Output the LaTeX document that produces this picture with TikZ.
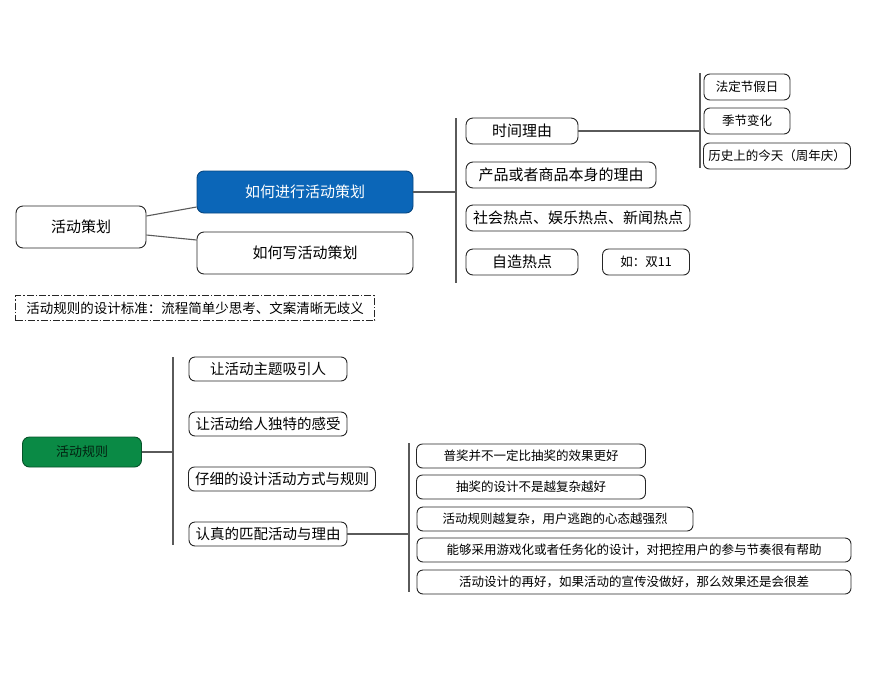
\documentclass[tikz,border=0pt]{standalone}
\usepackage{fontspec}
\setmainfont{Noto Sans CJK SC}
\usepackage{tikz}
\usetikzlibrary{calc}

\definecolor{planblue}{HTML}{0B66B8}
\definecolor{rulegreen}{HTML}{0A8A45}
\definecolor{linegray}{HTML}{5A5A5A}

\begin{document}
\begin{tikzpicture}[
    x=1pt, y=-1pt,
    box/.style={rectangle, draw=black!85, line width=0.9pt, rounded corners=7pt,
                inner sep=0pt, font=\fontsize{15}{15}\selectfont},
    big/.style={box, minimum width=130pt, minimum height=42pt},
    mid/.style={box, minimum width=216pt, minimum height=42pt},
    leaf/.style={box, minimum height=26pt},
    small/.style={box, minimum height=24pt, rounded corners=6pt,
                  font=\fontsize{14.5}{14.5}\selectfont},
    tiny/.style={small, minimum height=26pt, font=\fontsize{12.5}{12.5}\selectfont},
    link/.style={draw=linegray, line width=1.1pt},
]
\useasboundingbox (0,0) rectangle (875,675);

% top tree
\node[big] (plan) at (81,227) {活动策划};
\node[mid, fill=planblue, draw=planblue!70!black, text=white] (how) at (305,192) {如何进行活动策划};
\node[mid] (write) at (305,253) {如何写活动策划};
\draw[link] ($(plan.east)+(0,-11)$) -- ($(how.west)+(0,15)$);
\draw[link] ($(plan.east)+(0,8)$) -- ($(write.west)+(0,-13)$);

% reasons
\coordinate (bar1) at (456,192);
\draw[link] (how.east) -- (bar1);
\draw[link] (456,118) -- (456,283);
\node[leaf, minimum width=112pt] (time) at (522,131) {时间理由};
\node[leaf, minimum width=190pt] (goods) at (561,175) {产品或者商品本身的理由};
\node[leaf, minimum width=224pt] (hot) at (578,218) {社会热点、娱乐热点、新闻热点};
\node[leaf, minimum width=112pt] (self) at (522,262) {自造热点};
\node[tiny, minimum width=87pt] (eg) at (646,262) {如：双11};

% time reasons
\coordinate (bar2) at (700,131);
\draw[link] (time.east) -- (bar2);
\draw[link] (700,73) -- (700,168);
\node[tiny, minimum width=86pt] (holiday) at (747,87) {法定节假日};
\node[tiny, minimum width=86pt] (season) at (747,121) {季节变化};
\node[tiny, minimum width=147pt] (today) at (777,156) {历史上的今天（周年庆）};

% standard
\node[draw=black!85, line width=0.9pt, dash pattern=on 7pt off 2pt on 1.5pt off 2pt,
      minimum width=359pt, minimum height=25pt, inner sep=0pt,
      font=\fontsize{13.5}{13.5}\selectfont] (std) at (195,308)
  {活动规则的设计标准：流程简单少思考、文案清晰无歧义};

% rules tree
\node[box, fill=rulegreen, draw=rulegreen!60!black, text=black!75!rulegreen,
      minimum width=119pt, minimum height=30pt,
      font=\fontsize{13}{13}\selectfont] (rule) at (82,452) {活动规则};
\coordinate (bar3) at (173,452);
\draw[link] (rule.east) -- (bar3);
\draw[link] (173,357) -- (173,545);
\node[small, minimum width=158pt] (theme) at (268,369) {让活动主题吸引人};
\node[small, minimum width=158pt] (feel) at (268,424) {让活动给人独特的感受};
\node[small, minimum width=187pt] (way) at (282,479) {仔细的设计活动方式与规则};
\node[small, minimum width=158pt] (match) at (268,534) {认真的匹配活动与理由};

% matching details
\coordinate (bar4) at (409,534);
\draw[link] (match.east) -- (bar4);
\draw[link] (409,443) -- (409,592);
\node[tiny, minimum width=229pt, minimum height=24pt] (d1) at (531,456) {普奖并不一定比抽奖的效果更好};
\node[tiny, minimum width=229pt, minimum height=24pt] (d2) at (531,487) {抽奖的设计不是越复杂越好};
\node[tiny, minimum width=276pt, minimum height=24pt] (d3) at (555,519) {活动规则越复杂，用户逃跑的心态越强烈};
\node[tiny, minimum width=434pt, minimum height=24pt] (d4) at (634,550) {能够采用游戏化或者任务化的设计，对把控用户的参与节奏很有帮助};
\node[tiny, minimum width=434pt, minimum height=24pt] (d5) at (634,582) {活动设计的再好，如果活动的宣传没做好，那么效果还是会很差};

\end{tikzpicture}
\end{document}
